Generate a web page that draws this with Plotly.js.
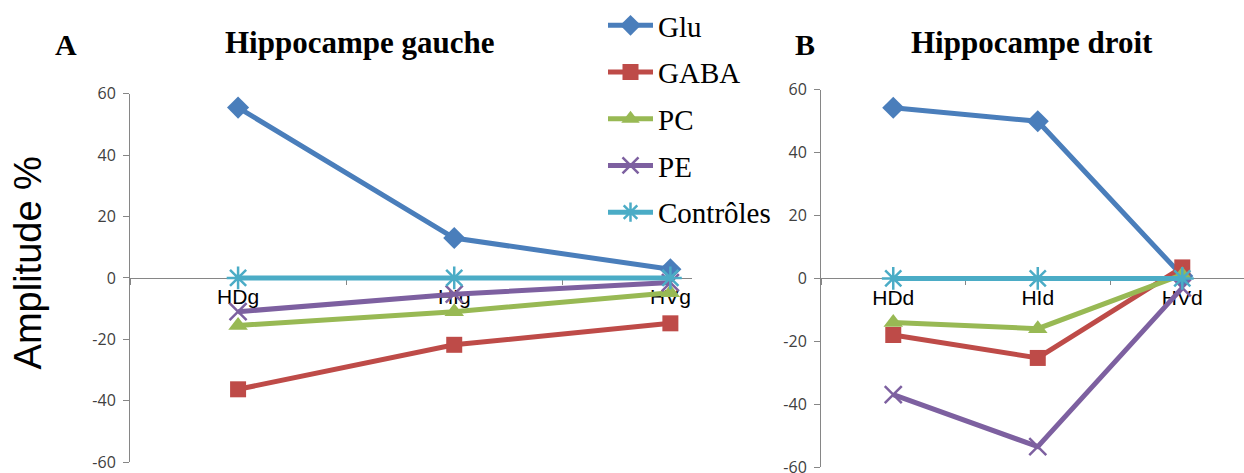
<!DOCTYPE html>
<html><head><meta charset="utf-8">
<script src="https://cdn.plot.ly/plotly-3.0.1.min.js"></script>
<style>body{margin:0;background:#fff}#chart{width:1244px;height:473px}</style>
</head><body><div id="chart"></div>
<script>
// ---- data ----
const catsLeft = ['HDg', 'HIg', 'HVg'];
const catsRight = ['HDd', 'HId', 'HVd'];
const seriesNames = ['Glu', 'GABA', 'PC', 'PE', 'Contrôles'];
const gluLeft = [55.5, 13, 2.8];
const gabaLeft = [-36.3, -21.8, -14.8];
const pcLeft = [-15.5, -11, -4.8];
const peLeft = [-11, -5.3, -1.5];
const ctrlLeft = [0, 0, 0];
const gluRight = [54.3, 50, 0.8];
const gabaRight = [-18, -25.3, 3.5];
const pcRight = [-14, -16, 1.2];
const peRight = [-37, -53.5, -3];
const ctrlRight = [0, 0, 0];
const yTickVals = [-60, -40, -20, 0, 20, 40, 60];
const yTickText = ['-60', '-40', '-20', '0', '20', '40', '60'];
const titleLeft = 'Hippocampe gauche';
const titleRight = 'Hippocampe droit';
const panelLeft = 'A';
const panelRight = 'B';
const yTitle = 'Amplitude %';

// ---- styles ----
const W = 1244, H = 473;
const colors = ['#4A7EBB', '#BE4B48', '#98B954', '#7D60A0', '#4BACC6'];
const symbols = ['diamond', 'square', 'triangle-up', 'x-thin-open', 'asterisk-open'];
const msizes = [17, 16, 17, 17, 19];
const leftVals = [gluLeft, gabaLeft, pcLeft, peLeft, ctrlLeft];
const rightVals = [gluRight, gabaRight, pcRight, peRight, ctrlRight];

function mk(i, cats, vals, xa, ya, show) {
  const thin = symbols[i].indexOf('open') >= 0;
  return {
    type: 'scatter', mode: 'lines+markers',
    x: cats, y: vals, xaxis: xa, yaxis: ya,
    name: seriesNames[i], legendgroup: 'g' + i, showlegend: show,
    line: {color: colors[i], width: 5},
    marker: {symbol: symbols[i], size: msizes[i], color: colors[i],
             line: {color: colors[i], width: thin ? 2.5 : 0}},
    cliponaxis: false
  };
}
const data = [];
for (let i = 0; i < 5; i++) data.push(mk(i, catsLeft, leftVals[i], 'x', 'y', true));
for (let i = 0; i < 5; i++) data.push(mk(i, catsRight, rightVals[i], 'x2', 'y2', false));

const px = v => v / W, py = v => 1 - v / H;
const yDomL = [py(462), py(93)], yDomR = [py(467), py(89)];
const axisGray = '#868686';
const tickFont = {family: 'Open Sans, sans-serif', size: 16, color: '#404040'};
const catFont = {family: 'Liberation Sans, Arial, sans-serif', size: 21, color: '#000'};

function xax(dom, yd, rng) {
  return {domain: dom, type: 'category', range: rng, anchor: 'free',
    position: (yd[0] + yd[1]) / 2, showline: true, linecolor: axisGray, linewidth: 1,
    ticks: 'outside', tickson: 'boundaries', ticklen: 6, tickcolor: axisGray,
    tickfont: catFont, showgrid: false, zeroline: false, layer: 'below traces',
    fixedrange: true};
}
function yax(dom, anchorX) {
  return {domain: dom, range: [-60, 60], anchor: anchorX, tickvals: yTickVals,
    ticktext: yTickText, tickmode: 'array', ticklabeloverflow: 'allow',
    showline: true, linecolor: axisGray, linewidth: 1, ticks: 'outside',
    ticklen: 6, tickcolor: axisGray, tickfont: tickFont, showgrid: false,
    ticklabelstandoff: 4,
    zeroline: false, layer: 'below traces', fixedrange: true};
}

const serif = 'Liberation Serif, Times New Roman, serif';
function ann(text, x, y, size, fam, extra) {
  return Object.assign({text: text, x: px(x), y: py(y), xref: 'paper', yref: 'paper',
    xanchor: 'center', yanchor: 'middle', showarrow: false,
    font: {family: fam, size: size, color: '#000'}}, extra || {});
}
const layout = {
  width: W, height: H, margin: {l: 0, r: 0, t: 0, b: 0},
  paper_bgcolor: '#fff', plot_bgcolor: 'rgba(0,0,0,0)',
  xaxis: xax([px(130), px(692)], yDomL, [-0.5, 2.1]),
  yaxis: yax(yDomL, 'x'),
  xaxis2: xax([px(821), 1], yDomR, [-0.5, 2.427]),
  yaxis2: yax(yDomR, 'x2'),
  showlegend: true,
  legend: {x: px(603), y: py(-1), xanchor: 'left', yanchor: 'top',
    bgcolor: 'rgba(0,0,0,0)', font: {family: serif, size: 29, color: '#000'},
    tracegroupgap: 6, itemwidth: 45},
  annotations: [
    ann('<b>' + panelLeft + '</b>', 66, 44, 30, serif),
    ann('<b>' + titleLeft + '</b>', 360, 42, 31, serif),
    ann('<b>' + panelRight + '</b>', 805, 44, 30, serif),
    ann('<b>' + titleRight + '</b>', 1032, 42, 31, serif),
    ann(yTitle, 28, 263, 38, 'Liberation Sans, Arial, sans-serif', {textangle: -90})
  ]
};
Plotly.newPlot('chart', data, layout, {displayModeBar: false, staticPlot: true});
</script></body></html>
